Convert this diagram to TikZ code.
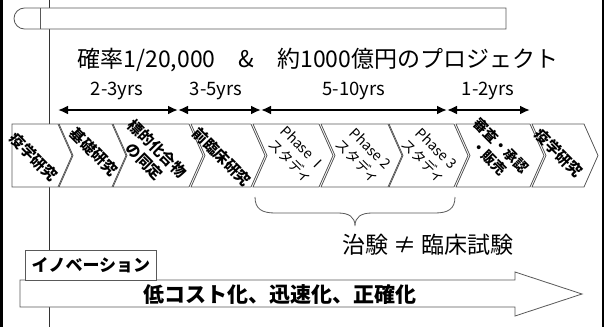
\documentclass[tikz,border=0pt]{standalone}
\usepackage{fontspec}
\setmainfont{Noto Sans CJK JP}
\usetikzlibrary{arrows.meta}
\begin{document}
\begin{tikzpicture}[x=1pt,y=-1pt,
  outl/.style={draw=black!65, line width=0.8pt},
  chev/.style={outl, fill=white},
  clab/.style={rotate=-45, align=center, inner sep=0pt, font=\fontsize{15}{18}\selectfont\bfseries},
  plab/.style={rotate=-45, align=center, inner sep=0pt, font=\fontsize{14}{18}\selectfont},
  dur/.style={font=\fontsize{18.5}{22}\selectfont, inner sep=0pt},
  span/.style={line width=2.8pt, {Latex[length=10pt,width=9pt]}-{Latex[length=10pt,width=9pt]}},
]
\useasboundingbox (0,0) rectangle (606,327);
\fill[white] (0,0) rectangle (606,327);
% borders and vertical guide
\draw[line width=3pt] (1.5,0) -- (1.5,327);
\draw[line width=1.5pt] (603,0) -- (603,327);
\draw[black!80, line width=0.8pt] (49,0) -- (49,327);
% top scroll bar
\draw[outl, fill=white] (24.5,8) -- (506,8) -- (506,29) -- (24.5,29)
  .. controls (18.7,29) and (14,24.3) .. (14,18.5)
  .. controls (14,12.7) and (18.7,8) .. (24.5,8) -- cycle;
\draw[outl] (40,8) -- (40,29);
% title
\node[font=\fontsize{23}{27}\selectfont, inner sep=0pt] (title) at (318,60) {確率1/20,000　\&　約1000億円のプロジェクト};
% durations
\node[dur] (d1) at (117,91) {2-3yrs};
\node[dur] (d2) at (216,91) {3-5yrs};
\node[dur] (d3) at (354,91) {5-10yrs};
\node[dur] (d4) at (488,91) {1-2yrs};
\coordinate (a0) at (58,110);
\coordinate (a1) at (178,110);
\coordinate (a2) at (261,110);
\coordinate (a3) at (447,110);
\coordinate (a4) at (530,110);
\draw[span] (a0) -- (a1);
\draw[span] (a1) -- (a2);
\draw[span] (a2) -- (a3);
\draw[span] (a3) -- (a4);
% chevrons
\draw[chev] (12,124) -- (58,124) -- (72,155.5) -- (58,187) -- (12,187) -- cycle;
\foreach \xl/\xr in {59/112,113/189,191/251,253/319,321/388,389/454,456/530,532/584}
  \draw[chev] (\xl,124) -- (\xr,124) -- (\xr+14,155.5) -- (\xr,187) -- (\xl,187) -- (\xl+14,155.5) -- cycle;
\node[clab] (c1) at (34,157) {疫学研究};
\node[clab] (c2) at (94,152) {基礎研究};
\node[clab] (c3) at (151,155) {標的化合物\\の同定};
\node[clab] (c4) at (222,157) {前臨床研究};
\node[plab] (c5) at (297,155) {Phase Ⅰ\\スタディ};
\node[plab] (c6) at (364,155) {Phase 2\\スタディ};
\node[plab] (c7) at (430,155) {Phase 3\\スタディ};
\node[clab, font=\fontsize{14}{17}\selectfont\bfseries] (c8) at (495,152) {審査・承認\\・販売};
\node[clab] (c9) at (559,153) {疫学研究};
% brace
\draw[black!65, line width=0.8pt] (255,197) .. controls (255,209) and (262,213) .. (275,213)
  -- (338,213) .. controls (349,213) and (355,217) .. (355,226)
  .. controls (355,217) and (361,213) .. (372,213)
  -- (435,213) .. controls (448,213) and (455,209) .. (455,197);
\node[font=\fontsize{23}{27}\selectfont, inner sep=0pt] (chiken) at (428,245) {治験 ≠ 臨床試験};
% bottom arrow
\draw[outl, fill=white] (20,280) -- (515,280) -- (515,272) -- (582,294) -- (515,316) -- (515,307) -- (20,307) -- cycle;
\node[font=\fontsize{21}{25}\selectfont\bfseries, inner sep=0pt] (goal) at (280,295) {低コスト化、迅速化、正確化};
\node[outl, fill=white, anchor=north west, minimum width=131pt, minimum height=30pt, inner sep=0pt,
  font=\fontsize{17}{20}\selectfont\bfseries] (inno) at (25,250) {イノベーション};
\end{tikzpicture}
\end{document}
